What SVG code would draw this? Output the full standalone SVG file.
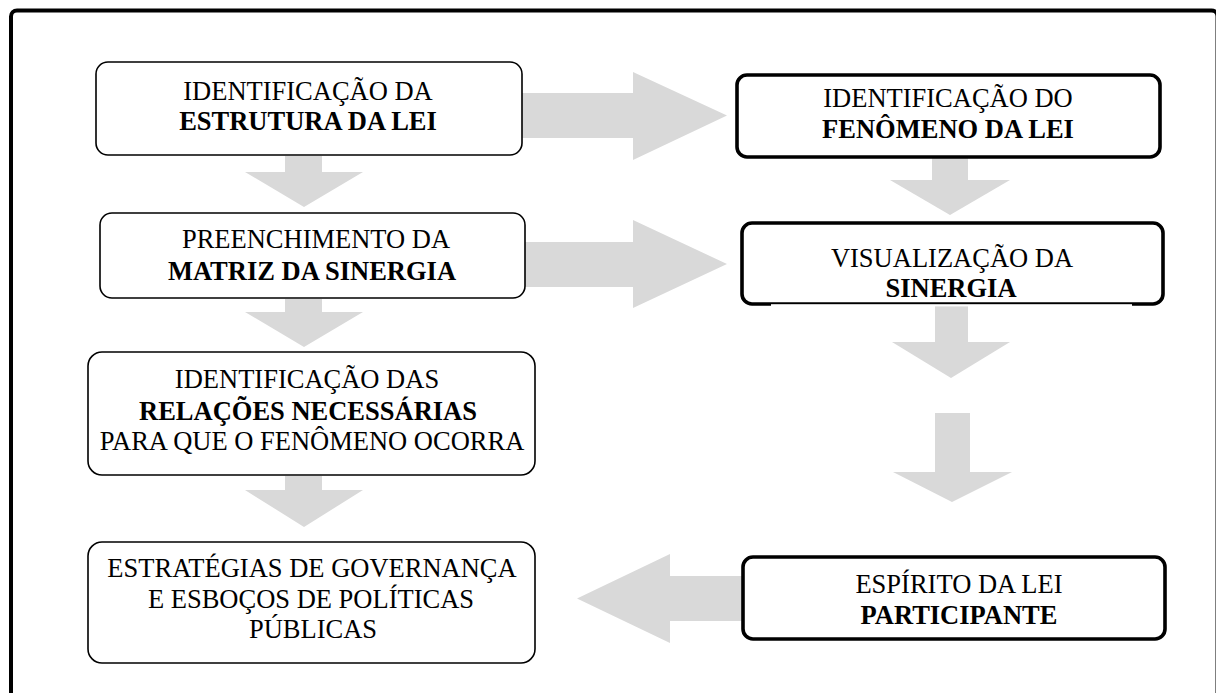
<svg xmlns="http://www.w3.org/2000/svg" width="1216" height="693" viewBox="0 0 1216 693">
<style>
  .t { font-family: "Liberation Serif", "Times New Roman", serif; font-size: 26.5px; fill: #000; text-anchor: middle; }
  .b { font-weight: bold; }
  .thin { fill: #fff; stroke: #000; stroke-width: 1.6; }
  .thick { fill: #fff; stroke: #000; stroke-width: 3.6; }
  .arr { fill: #d9d9d9; stroke: none; }
</style>
<rect x="0" y="0" width="1216" height="693" fill="#fff"/>
<rect id="frame" x="11" y="10.5" width="1206.5" height="700" rx="6" fill="none" stroke="#000" stroke-width="4"/>

<g id="connectors">
  <!-- left column downward arrows -->
  <polygon class="arr" points="285,156 322,156 322,172 363,172 304,207 245,172 285,172"/>
  <polygon class="arr" points="285,299 322,299 322,312 363,312 304,347 245,312 285,312"/>
  <polygon class="arr" points="285,476 322,476 322,490 363,490 304,527 245,490 285,490"/>
  <!-- right column downward arrows -->
  <polygon class="arr" points="932,158 968,158 968,180 1010,180 950,215 890,180 932,180"/>
  <polygon class="arr" points="935,306 968,306 968,342 1010,342 951,378 892,342 935,342"/>
  <polygon class="arr" points="935,413 970,413 970,472 1012,472 952,502 893,472 935,472"/>
  <!-- horizontal arrows -->
  <polygon class="arr" points="522,93 633,93 633,72 727,115.5 633,160 633,138 522,138"/>
  <polygon class="arr" points="525,242 633,242 633,220 727,264 633,308 633,287 525,287"/>
  <polygon class="arr" points="743,576 670,576 670,554 577,598.5 670,643 670,621 743,621"/>
</g>

<g id="node-estrutura">
  <rect class="thin" x="96" y="62" width="426" height="93" rx="12"/>
  <text class="t" x="308" y="100">IDENTIFICAÇÃO DA</text>
  <text class="t b" x="308" y="130">ESTRUTURA DA LEI</text>
</g>

<g id="node-matriz">
  <rect class="thin" x="100" y="213" width="425" height="85" rx="12"/>
  <text class="t" x="316" y="248">PREENCHIMENTO DA</text>
  <text class="t b" x="312" y="280">MATRIZ DA SINERGIA</text>
</g>

<g id="node-relacoes">
  <rect class="thin" x="88" y="352" width="447" height="123" rx="14"/>
  <text class="t" x="307" y="388">IDENTIFICAÇÃO DAS</text>
  <text class="t b" x="308" y="420">RELAÇÕES NECESSÁRIAS</text>
  <text class="t" x="312" y="450">PARA QUE O FENÔMENO OCORRA</text>
</g>

<g id="node-estrategias">
  <rect class="thin" x="88" y="542" width="447" height="121" rx="14"/>
  <text class="t" x="312" y="577">ESTRATÉGIAS DE GOVERNANÇA</text>
  <text class="t" x="311" y="608">E ESBOÇOS DE POLÍTICAS</text>
  <text class="t" x="313" y="638">PÚBLICAS</text>
</g>

<g id="node-fenomeno">
  <rect class="thick" x="737" y="75" width="423" height="82" rx="10"/>
  <text class="t" x="948" y="107">IDENTIFICAÇÃO DO</text>
  <text class="t b" x="948" y="138">FENÔMENO DA LEI</text>
</g>

<g id="node-visualizacao">
  <rect class="thick" x="742" y="223" width="421" height="81" rx="10"/>
  <rect x="771" y="304.2" width="361" height="2.2" fill="#fff"/>
  <text class="t" x="952" y="267">VISUALIZAÇÃO DA</text>
  <text class="t b" x="951" y="297">SINERGIA</text>
</g>

<g id="node-espirito">
  <rect class="thick" x="743" y="557" width="422" height="82" rx="10"/>
  <text class="t" x="959" y="593">ESPÍRITO DA LEI</text>
  <text class="t b" x="959" y="624">PARTICIPANTE</text>
</g>
</svg>
